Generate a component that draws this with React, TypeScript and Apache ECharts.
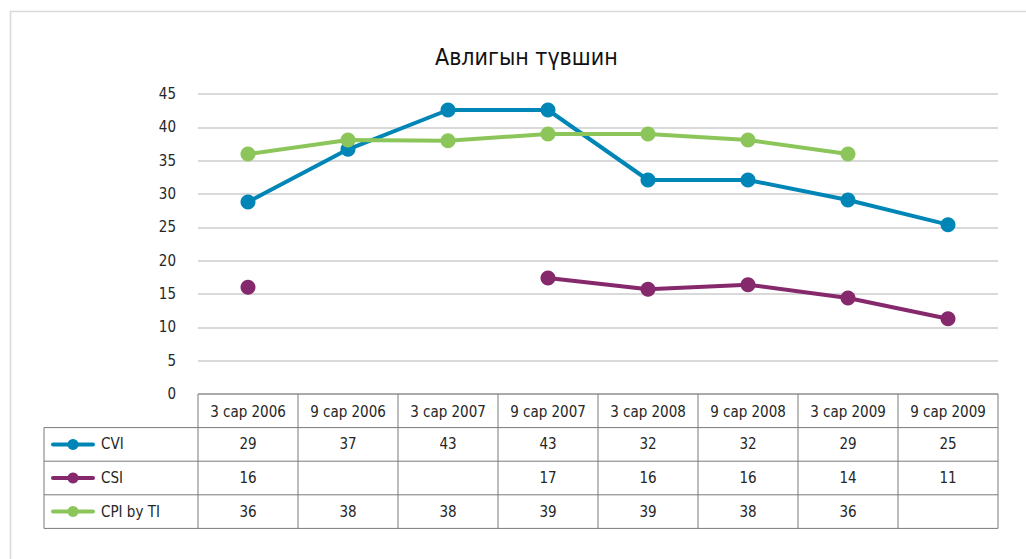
import React, { useEffect, useRef } from "react";
import * as echarts from "echarts";

const categories = [
  "3 сар 2006",
  "9 сар 2006",
  "3 сар 2007",
  "9 сар 2007",
  "3 сар 2008",
  "9 сар 2008",
  "3 сар 2009",
  "9 сар 2009",
];
const seriesNames = ["CVI", "CSI", "CPI by TI"];
const cviValues: (number | null)[] = [28.8, 36.7, 42.6, 42.6, 32.1, 32.1, 29.1, 25.4];
const csiValues: (number | null)[] = [16.0, null, null, 17.4, 15.7, 16.4, 14.4, 11.3];
const cpiValues: (number | null)[] = [36.0, 38.1, 38.0, 39.0, 39.0, 38.1, 36.0, null];
const seriesColors = ["#0086b6", "#86286c", "#8cc65b"];
const titleText = "Авлигын түвшин";

const FONT = "'Liberation Sans Narrow', 'DejaVu Sans Condensed', 'Roboto', sans-serif";

export default function App() {
  const ref = useRef<HTMLDivElement>(null);
  useEffect(() => {
    if (!ref.current) return;
    const chart = echarts.init(ref.current, undefined, { renderer: "svg" });
    const allValues = [cviValues, csiValues, cpiValues];
    const option: any = {
      animation: false,
      backgroundColor: "#ffffff",
      title: {
        text: titleText,
        left: 430,
        top: 40,
        textStyle: { fontFamily: FONT, fontSize: 23, fontWeight: "normal", color: "#111111" },
      },
      grid: { left: 198, right: 28, top: 94, bottom: 165 },
      xAxis: {
        type: "category",
        data: categories,
        boundaryGap: true,
        axisLine: { show: false },
        axisTick: { show: false },
        axisLabel: { margin: 10, fontFamily: FONT, fontSize: 15, color: "#262626" },
      },
      yAxis: {
        type: "value",
        min: 0,
        max: 45,
        interval: 5,
        axisLine: { show: false },
        axisTick: { show: false },
        axisLabel: { margin: 22, fontFamily: FONT, fontSize: 15, color: "#262626" },
        splitLine: { lineStyle: { color: "#d9d9d9", width: 2 } },
      },
      series: seriesNames.map((name, i) => ({
        name,
        type: "line",
        data: allValues[i],
        connectNulls: false,
        symbol: "circle",
        symbolSize: 15,
        lineStyle: { width: 4, color: seriesColors[i] },
        itemStyle: { color: seriesColors[i] },
        z: 2 + i,
      })),
    };
    chart.setOption(option);

    const xs = categories.map((_, i) => chart.convertToPixel({ xAxisIndex: 0 }, i) as number);
    const half = (xs[1] - xs[0]) / 2;
    const colLeft = xs[0] - half;
    const colRight = xs[xs.length - 1] + half;
    const y0 = chart.convertToPixel({ yAxisIndex: 0 }, 0) as number;
    const rowH = 33.6;
    const tableLeft = 44;
    const border = { stroke: "#7a7a7a", lineWidth: 1 };
    const g: any[] = [];
    g.push({
      type: "rect",
      shape: { x: 10.5, y: 11.5, width: 1040, height: 580 },
      style: { fill: "none", stroke: "#d9d9d9", lineWidth: 1.5 },
      silent: true,
    });
    g.push({ type: "line", shape: { x1: colLeft, y1: y0, x2: colRight, y2: y0 }, style: border });
    for (let k = 1; k <= 4; k++) {
      g.push({
        type: "line",
        shape: { x1: tableLeft, y1: y0 + rowH * k, x2: colRight, y2: y0 + rowH * k },
        style: border,
      });
    }
    g.push({
      type: "line",
      shape: { x1: tableLeft, y1: y0 + rowH, x2: tableLeft, y2: y0 + rowH * 4 },
      style: border,
    });
    for (let c = 0; c <= categories.length; c++) {
      const x = colLeft + c * half * 2;
      g.push({ type: "line", shape: { x1: x, y1: y0, x2: x, y2: y0 + rowH * 4 }, style: border });
    }
    seriesNames.forEach((name, r) => {
      const cy = y0 + rowH * (r + 1) + rowH / 2;
      g.push({
        type: "line",
        shape: { x1: 53, y1: cy, x2: 93, y2: cy },
        style: { stroke: seriesColors[r], lineWidth: 4, lineCap: "round" },
      });
      g.push({ type: "circle", shape: { cx: 73, cy, r: 5.5 }, style: { fill: seriesColors[r] } });
      g.push({
        type: "text",
        x: 101,
        y: cy,
        style: {
          text: name,
          fontFamily: FONT,
          fontSize: 15,
          fill: "#262626",
          verticalAlign: "middle",
          textAlign: "left",
        },
      });
      allValues[r].forEach((v, i) => {
        if (v === null) return;
        g.push({
          type: "text",
          x: xs[i],
          y: cy,
          style: {
            text: String(Math.round(v)),
            fontFamily: FONT,
            fontSize: 15,
            fill: "#262626",
            verticalAlign: "middle",
            textAlign: "center",
          },
        });
      });
    });
    chart.setOption({ graphic: g });
    return () => chart.dispose();
  }, []);
  return (
    <div style={{ position: "fixed", left: 0, top: 0, width: 1026, height: 559 }}>
      <div ref={ref} style={{ width: 1026, height: 559 }} />
    </div>
  );
}
